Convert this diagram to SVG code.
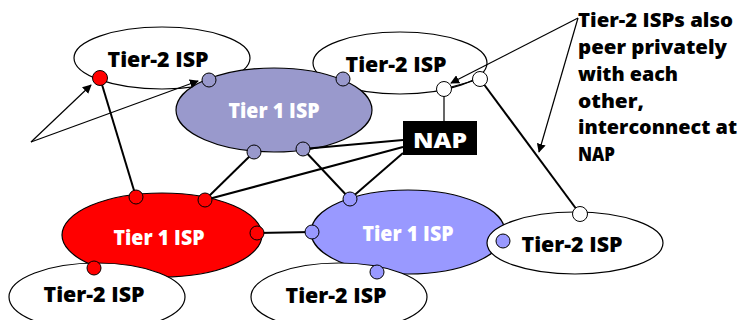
<svg xmlns="http://www.w3.org/2000/svg" width="741" height="320" viewBox="0 0 741 320">
<defs>
<style>
.t2{fill:#fff;stroke:#000;stroke-width:1.2}
.lbl{font-family:"Open Sans","Liberation Sans",sans-serif;font-weight:800;font-size:21px;text-anchor:middle}
.dk{fill:#000}
.wh{fill:#fff}
.ann{font-family:"Open Sans","Liberation Sans",sans-serif;font-weight:800;font-size:20px;fill:#000}
.ln{stroke:#000;stroke-width:2;fill:none}
.ar{stroke:#000;stroke-width:1.2;fill:none;marker-end:url(#ah)}
.dot{stroke:#000;stroke-width:1}
.pd{fill:#9999cc}.bd{fill:#9999ff}.rd{fill:#ff0000}.wd{fill:#fff}
</style>
<marker id="ah" viewBox="0 0 10 10" refX="9" refY="5" markerWidth="9" markerHeight="9" markerUnits="userSpaceOnUse" orient="auto"><path d="M0,0L10,5L0,10z" fill="#000"/></marker>
</defs>
<g id="t2-topleft"><ellipse class="t2" cx="162" cy="58" rx="88" ry="31"/><text class="lbl dk" x="158" y="67" textLength="101" lengthAdjust="spacingAndGlyphs">Tier-2 ISP</text></g>
<g id="t2-topright"><ellipse class="t2" cx="400" cy="63" rx="87" ry="31"/><text class="lbl dk" x="396" y="72" textLength="101" lengthAdjust="spacingAndGlyphs">Tier-2 ISP</text></g>
<g id="t1-top"><ellipse cx="274" cy="110" rx="98" ry="42" fill="#9999cc" stroke="#000" stroke-width="1.2"/><text class="lbl wh" x="274" y="118" textLength="91" lengthAdjust="spacingAndGlyphs">Tier 1 ISP</text></g>
<g id="t1-red"><ellipse cx="162" cy="235" rx="100" ry="42" fill="#ff0000" stroke="#000" stroke-width="1.2"/><text class="lbl wh" x="159" y="245" textLength="91" lengthAdjust="spacingAndGlyphs">Tier 1 ISP</text></g>
<g id="t1-blue"><ellipse cx="408" cy="232" rx="97" ry="42" fill="#9999ff" stroke="#000" stroke-width="1.2"/><text class="lbl wh" x="408" y="241" textLength="91" lengthAdjust="spacingAndGlyphs">Tier 1 ISP</text></g>
<g id="t2-bottomleft"><ellipse class="t2" cx="97" cy="297" rx="88" ry="34"/><text class="lbl dk" x="94" y="302" textLength="101" lengthAdjust="spacingAndGlyphs">Tier-2 ISP</text></g>
<g id="t2-bottommid"><ellipse class="t2" cx="339" cy="297" rx="88" ry="34"/><text class="lbl dk" x="336" y="303" textLength="101" lengthAdjust="spacingAndGlyphs">Tier-2 ISP</text></g>
<g id="t2-bottomright"><ellipse class="t2" cx="575" cy="243" rx="88" ry="31"/><text class="lbl dk" x="572" y="252" textLength="101" lengthAdjust="spacingAndGlyphs">Tier-2 ISP</text></g>
<g id="nap"><rect x="403" y="121" width="74" height="34" fill="#000"/><text class="lbl wh" x="440" y="148" font-size="24" textLength="54" lengthAdjust="spacingAndGlyphs">NAP</text></g>
<g id="connectors">
<line class="ln" x1="100" y1="78" x2="136" y2="197"/>
<line class="ln" x1="254" y1="152" x2="205" y2="200"/>
<line class="ln" x1="303" y1="149" x2="350" y2="199"/>
<line class="ln" x1="303" y1="149" x2="403" y2="140"/>
<line class="ln" x1="205" y1="200" x2="403" y2="147"/>
<line class="ln" x1="350" y1="199" x2="403" y2="153"/>
<line class="ln" x1="257" y1="233" x2="312" y2="232"/>
<line class="ln" x1="480" y1="79" x2="580" y2="214"/>
<line stroke="#000" stroke-width="1.2" x1="444" y1="89" x2="444" y2="121"/>
<line stroke="#000" stroke-width="1.2" x1="444" y1="89" x2="480" y2="79"/>
<line class="ar" x1="31" y1="142" x2="91" y2="85"/>
<line class="ar" x1="31" y1="142" x2="198" y2="81"/>
<line class="ar" x1="578" y1="18" x2="451" y2="83"/>
<line class="ar" x1="578" y1="18" x2="539" y2="152"/>
</g>
<g id="dots">
<circle class="dot rd" cx="100" cy="78" r="7.5"/>
<circle class="dot pd" cx="209" cy="80" r="7"/>
<circle class="dot pd" cx="343" cy="79" r="7"/>
<circle class="dot wd" cx="444" cy="89" r="7.5"/>
<circle class="dot wd" cx="480" cy="79" r="7.5"/>
<circle class="dot pd" cx="254" cy="152" r="7"/>
<circle class="dot pd" cx="303" cy="149" r="7"/>
<circle class="dot rd" cx="136" cy="197" r="7"/>
<circle class="dot rd" cx="205" cy="200" r="7"/>
<circle class="dot rd" cx="257" cy="233" r="7"/>
<circle class="dot rd" cx="94" cy="268" r="7"/>
<circle class="dot bd" cx="312" cy="232" r="7"/>
<circle class="dot bd" cx="350" cy="199" r="7"/>
<circle class="dot bd" cx="377" cy="272" r="7"/>
<circle class="dot bd" cx="503" cy="241" r="7"/>
<circle class="dot wd" cx="580" cy="214" r="7.5"/>
</g>
<g id="annotation">
<text class="ann" x="578" y="27" textLength="155" lengthAdjust="spacingAndGlyphs">Tier-2 ISPs also</text>
<text class="ann" x="578" y="54" textLength="149" lengthAdjust="spacingAndGlyphs">peer privately</text>
<text class="ann" x="578" y="81" textLength="100" lengthAdjust="spacingAndGlyphs">with each</text>
<text class="ann" x="578" y="108" textLength="66" lengthAdjust="spacingAndGlyphs">other,</text>
<text class="ann" x="578" y="134" textLength="159" lengthAdjust="spacingAndGlyphs">interconnect at</text>
<text class="ann" x="578" y="161" textLength="37" lengthAdjust="spacingAndGlyphs">NAP</text>
</g>
</svg>
